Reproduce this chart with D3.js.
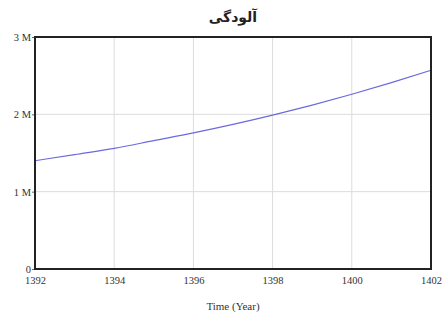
<!DOCTYPE html>
<html lang="en">

<head>
    <meta charset="UTF-8">
    <title>Pollution</title>
    <script src="https://d3js.org/d3.v7.min.js"></script>

    <style>
        body {
            margin: 0;
            background: #fff;
            font-family: 'Liberation Serif', 'Times New Roman', serif;
        }

        .grid line {
            stroke: #dcdcdc;
            stroke-width: 1;
        }

        .axis text {
            fill: #333;
            font-size: 10.5px;
            font-family: 'Liberation Serif', 'Times New Roman', serif;
        }

        .axis path {
            display: none;
        }

        .axis line {
            stroke: #666;
        }
    </style>

</head>

<body>
    <svg></svg>
    <script>
        const width = 442;
        const height = 317;

        // values
        const years = [1392, 1393, 1394, 1395, 1396, 1397, 1398, 1399, 1400, 1401, 1402];
        const pollution = [1.40e6, 1.48e6, 1.56e6, 1.66e6, 1.76e6, 1.87e6, 1.99e6, 2.12e6, 2.26e6, 2.41e6, 2.57e6];
        const xTicks = [1392, 1394, 1396, 1398, 1400, 1402];
        const yTicks = [0, 1e6, 2e6, 3e6];
        const yTickLabels = ["0", "1 M", "2 M", "3 M"];

        const margin = { top: 37, right: 11, bottom: 48, left: 35 };

        const svg = d3.select("svg")
            .attr("width", width)
            .attr("height", height);

        const x = d3.scaleLinear()
            .domain([1392, 1402])
            .range([margin.left, width - margin.right]);

        const y = d3.scaleLinear()
            .domain([0, 3e6])
            .range([height - margin.bottom, margin.top]);

        // grid
        const grid = svg.append("g").attr("class", "grid");
        grid.selectAll(".vx")
            .data(xTicks.slice(1, -1))
            .enter()
            .append("line")
            .attr("x1", d => x(d)).attr("x2", d => x(d))
            .attr("y1", y(3e6)).attr("y2", y(0));
        grid.selectAll(".hy")
            .data(yTicks.slice(1, -1))
            .enter()
            .append("line")
            .attr("x1", x(1392)).attr("x2", x(1402))
            .attr("y1", d => y(d)).attr("y2", d => y(d));

        // axes
        svg.append("g")
            .attr("class", "axis")
            .attr("transform", `translate(0,${height - margin.bottom})`)
            .call(d3.axisBottom(x).tickValues(xTicks).tickFormat(d3.format("d")).tickSize(0).tickPadding(8));

        svg.append("g")
            .attr("class", "axis")
            .attr("transform", `translate(${margin.left},0)`)
            .call(d3.axisLeft(y).tickValues(yTicks).tickFormat((d, i) => yTickLabels[i]).tickSize(3).tickPadding(1));

        // line
        const line = d3.line()
            .x((d, i) => x(years[i]))
            .y(d => y(d))
            .curve(d3.curveMonotoneX);

        svg.append("path")
            .datum(pollution)
            .attr("fill", "none")
            .attr("stroke", "#6a6ae0")
            .attr("stroke-width", 1.2)
            .attr("d", line);

        // frame
        svg.append("rect")
            .attr("x", x(1392))
            .attr("y", y(3e6))
            .attr("width", x(1402) - x(1392))
            .attr("height", y(0) - y(3e6))
            .attr("fill", "none")
            .attr("stroke", "#222")
            .attr("stroke-width", 2);

        // title
        svg.append("text")
            .attr("x", 233)
            .attr("y", 22)
            .attr("text-anchor", "middle")
            .attr("font-size", 14)
            .attr("font-weight", "bold")
            .attr("font-family", "'DejaVu Sans', 'Noto Sans', sans-serif")
            .attr("fill", "#222")
            .text("آلودگی");

        svg.append("text")
            .attr("x", 233)
            .attr("y", 310)
            .attr("text-anchor", "middle")
            .attr("font-size", 11)
            .attr("fill", "#333")
            .text("Time (Year)");
    </script>
</body>

</html>
